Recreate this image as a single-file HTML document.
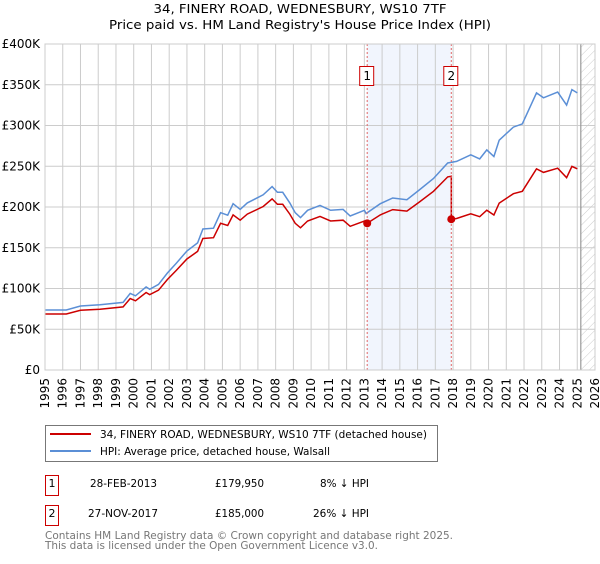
<!DOCTYPE html>
<html><head><meta charset="utf-8"><style>
body{margin:0;background:#fff;font-family:"DejaVu Sans","Liberation Sans",sans-serif;}
svg text{font-family:"DejaVu Sans","Liberation Sans",sans-serif;}
</style></head><body>
<svg id="chart" width="600" height="560" xmlns="http://www.w3.org/2000/svg">
<defs><pattern id="hatch" width="6" height="6" patternUnits="userSpaceOnUse" patternTransform="rotate(45)"><line x1="0" y1="0" x2="0" y2="6" stroke="#ccc" stroke-width="1"/></pattern></defs>
<text x="300" y="13" text-anchor="middle" font-size="12.5" textLength="293" lengthAdjust="spacingAndGlyphs">34, FINERY ROAD, WEDNESBURY, WS10 7TF</text>
<text x="300" y="29" text-anchor="middle" font-size="12.5" textLength="382" lengthAdjust="spacingAndGlyphs">Price paid vs. HM Land Registry's House Price Index (HPI)</text>
<g id="grid"></g><g id="marks"></g><g id="axes"></g>
<rect x="45.5" y="425.5" width="392" height="36" fill="#fff" stroke="#777"/>
<line x1="50" y1="434" x2="91" y2="434" stroke="#cc0000" stroke-width="2"/>
<text x="100" y="438" font-size="11" textLength="327" lengthAdjust="spacingAndGlyphs">34, FINERY ROAD, WEDNESBURY, WS10 7TF (detached house)</text>
<line x1="50" y1="451" x2="91" y2="451" stroke="#5b8fd6" stroke-width="2"/>
<text x="100" y="455" font-size="11" textLength="230" lengthAdjust="spacingAndGlyphs">HPI: Average price, detached house, Walsall</text>
<g font-size="11">
<rect x="45.5" y="475.5" width="13" height="20" fill="none" stroke="#cc0000"/>
<text x="52" y="487" text-anchor="middle">1</text>
<text x="90" y="487" textLength="67" lengthAdjust="spacingAndGlyphs">28-FEB-2013</text>
<text x="215" y="487" textLength="49" lengthAdjust="spacingAndGlyphs">£179,950</text>
<text x="320" y="487" textLength="49" lengthAdjust="spacingAndGlyphs">8% ↓ HPI</text>
<rect x="45.5" y="505.5" width="13" height="20" fill="none" stroke="#cc0000"/>
<text x="52" y="517" text-anchor="middle">2</text>
<text x="88" y="517" textLength="70" lengthAdjust="spacingAndGlyphs">27-NOV-2017</text>
<text x="215" y="517" textLength="49" lengthAdjust="spacingAndGlyphs">£185,000</text>
<text x="313" y="517" textLength="56" lengthAdjust="spacingAndGlyphs">26% ↓ HPI</text>
</g>
<text x="45" y="539" font-size="11" fill="#777" textLength="408" lengthAdjust="spacingAndGlyphs">Contains HM Land Registry data © Crown copyright and database right 2025.</text>
<text x="45" y="549" font-size="11" fill="#777" textLength="333" lengthAdjust="spacingAndGlyphs">This data is licensed under the Open Government Licence v3.0.</text>
</svg>
<script>
const hpiYears=[1995.0,1996.2,1997.0,1998.1,1999.4,1999.8,2000.1,2000.7,2000.9,2001.4,2001.9,2002.4,2003.0,2003.6,2003.9,2004.5,2004.9,2005.3,2005.6,2006.0,2006.4,2007.3,2007.8,2008.1,2008.4,2008.8,2009.1,2009.4,2009.8,2010.5,2011.1,2011.8,2012.2,2013.0,2013.1,2013.9,2014.6,2015.4,2016.1,2016.9,2017.7,2018.2,2019.0,2019.5,2019.9,2020.3,2020.6,2021.4,2021.9,2022.7,2023.1,2023.9,2024.4,2024.7,2025.0];
const hpiValues=[73.6,73.6,78.5,80,83,94,91,102,99,105,119,131,146,156,173,174,193,190,204,197,205,215,225,218,218,205,193,187,196,202,196,197,189,196,192,204,211,209,221,235,254,256,264,259,270,262,282,298,302,340,334,341,325,344,340];
const saleDates=[2013.16,2017.9];
const salePrices=[179.95,185.0];
const saleLabels=["1","2"];
const yTicks=[0,50,100,150,200,250,300,350,400];
const yTickLabels=["£0","£50K","£100K","£150K","£200K","£250K","£300K","£350K","£400K"];
const xTicks=[1995,1996,1997,1998,1999,2000,2001,2002,2003,2004,2005,2006,2007,2008,2009,2010,2011,2012,2013,2014,2015,2016,2017,2018,2019,2020,2021,2022,2023,2024,2025,2026];

const NS="http://www.w3.org/2000/svg";
const X0=45,X1=595,Y0=370,Y1=44;
const xs=y=>X0+(y-1995)/(2026-1995)*(X1-X0);
const ys=v=>Y0-v/400*(Y0-Y1);
function mk(tag,attrs,parent){const e=document.createElementNS(NS,tag);for(const k in attrs)e.setAttribute(k,attrs[k]);parent.appendChild(e);return e;}
const grid=document.getElementById('grid'),marks=document.getElementById('marks'),axes=document.getElementById('axes');
function hpiAt(t){for(let i=0;i<hpiYears.length-1;i++){if(t>=hpiYears[i]&&t<=hpiYears[i+1]){const f=(t-hpiYears[i])/(hpiYears[i+1]-hpiYears[i]);return hpiValues[i]+f*(hpiValues[i+1]-hpiValues[i]);}}return hpiValues[hpiValues.length-1];}
let r=mk('rect',{x:xs(saleDates[0]),y:Y1,width:xs(saleDates[1])-xs(saleDates[0]),height:Y0-Y1,fill:'#eef3fc',opacity:0.8},grid);


const hx=xs(2025.2);
r=mk('rect',{x:hx,y:Y1,width:X1-hx,height:Y0-Y1,fill:'url(#hatch)'},grid);


xTicks.forEach((t,i)=>{const x=xs(t);let l=mk('line',{x1:x,y1:Y1,x2:x,y2:Y0,stroke:'#ccc','stroke-width':1},grid);


let tx=mk('text',{x:0,y:0,'font-size':12,'text-anchor':'end',transform:`translate(${x+4},${Y0+8}) rotate(-90)`},axes);tx.textContent=t;

});
yTicks.forEach((v,i)=>{const y=ys(v);let l=mk('line',{x1:X0,y1:y,x2:X1,y2:y,stroke:'#ccc','stroke-width':1},grid);


let tx=mk('text',{x:40,y:y+4,'font-size':12,'text-anchor':'end'},axes);tx.textContent=yTickLabels[i];

});
let vl=mk('line',{x1:hx,y1:Y1,x2:hx,y2:Y0,stroke:'#999','stroke-width':1.2},grid);


let d=hpiYears.map((t,i)=>(i?'L':'M')+xs(t).toFixed(1)+','+ys(hpiValues[i]).toFixed(1)).join(' ');
let p=mk('path',{d:d,fill:'none',stroke:'#5b8fd6','stroke-width':1.5},marks);


const r1=salePrices[0]/hpiAt(saleDates[0]),r2=salePrices[1]/hpiAt(saleDates[1]);
let pts=[];
hpiYears.forEach((t,i)=>{if(t<saleDates[1])pts.push([t,hpiValues[i]*r1]);});
pts.push([saleDates[1],hpiAt(saleDates[1])*r1]);
pts.push([saleDates[1],salePrices[1]]);
hpiYears.forEach((t,i)=>{if(t>saleDates[1])pts.push([t,hpiValues[i]*r2]);});
pts.sort((a,b)=>a[0]-b[0]);
d=pts.map((q,i)=>(i?'L':'M')+xs(q[0]).toFixed(1)+','+ys(q[1]).toFixed(1)).join(' ');
p=mk('path',{d:d,fill:'none',stroke:'#cc0000','stroke-width':1.5},marks);


saleDates.forEach((t,i)=>{const x=xs(t);
let l=mk('line',{x1:x,y1:Y1,x2:x,y2:Y0,stroke:'#e06666','stroke-width':1,'stroke-dasharray':'2,2'},marks);


let c=mk('circle',{cx:x,cy:ys(salePrices[i]),r:4,fill:'#cc0000'},marks);


let b=mk('rect',{x:x-7.5,y:66.5,width:14,height:19,fill:'#fff',stroke:'#cc0000'},marks);


let tx=mk('text',{x:x,y:80,'font-size':12,'text-anchor':'middle'},marks);tx.textContent=saleLabels[i];

});
let fr=mk('rect',{x:X0,y:Y1,width:X1-X0,height:Y0-Y1,fill:'none',stroke:'#ccc'},axes);


</script>
</body></html>
